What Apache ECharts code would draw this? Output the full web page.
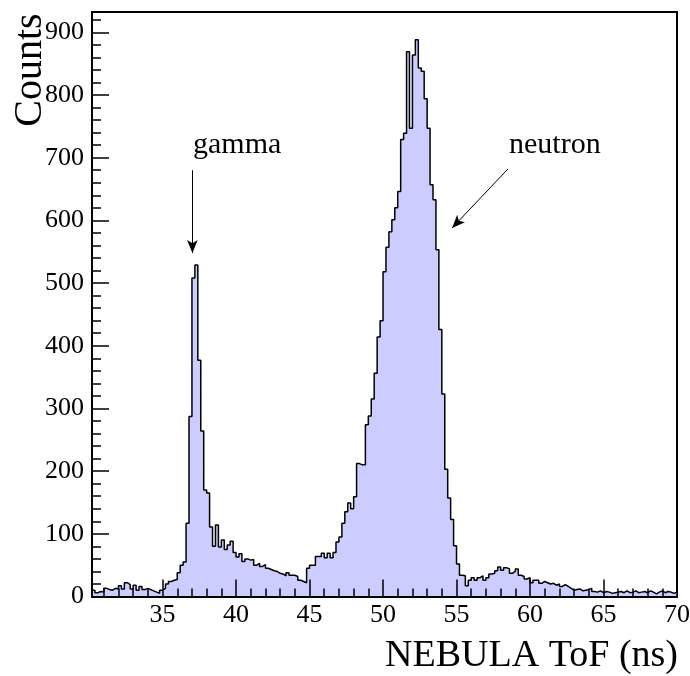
<!DOCTYPE html>
<html>
<head>
<meta charset="utf-8">
<script src="https://cdn.jsdelivr.net/npm/echarts@6/dist/echarts.min.js"></script>
<style>
html, body { margin: 0; padding: 0; background: #fff; }
#container { width: 690px; height: 676px; }
</style>
</head>
<body>
<div id="container"></div>
<script>
// histogram binning (ns)
var binStart = 30.2;
var binWidth = 0.2;
var xMin = 30.2;
var xMax = 70;
var yMax = 932.4;

// counts per 0.2 ns bin
var countsLow = [10, 6, 8, 7, 13, 11, 10, 13, 12, 17, 12, 22, 19, 12, 18, 10, 16, 11, 13, 11, 9, 7, 5, 10];          // 30.2 - 35.0
var countsGamma = [13, 20, 24, 26, 27, 38, 50, 55, 117, 287, 508, 529, 377, 264, 170, 165, 111, 80, 114, 79];       // 35.0 - 39.0
var countsValley = [90, 75, 82, 88, 70, 63, 68, 56, 60, 58, 59, 50, 53, 48, 51, 45, 43, 41, 40, 37,
                    36, 33, 38, 34, 34, 32, 26, 24, 22, 45, 50, 50, 64, 64, 69, 62, 69, 62, 70, 87];                 // 39.0 - 47.0
var countsNeutron = [95, 117, 135, 149, 140, 159, 212, 210, 210, 274, 288, 315, 356, 414, 440,
                     518, 557, 582, 601, 620, 646, 729, 739, 869, 747, 864, 888, 843, 838, 794,
                     747, 657, 633, 553, 426, 323, 203, 157, 123, 81, 52, 34, 33];                                   // 47.0 - 55.6
var countsTail = [17, 26, 30, 26, 30, 33, 26, 30, 36, 37, 41, 47, 42, 46, 44, 37, 40, 44, 34, 32,
                  28, 30, 22, 26, 26, 21, 24, 22, 20, 21, 18, 20, 16, 19, 16, 13, 10, 11, 12, 9,
                  10, 11, 13, 8, 7, 9, 6, 8, 7, 5, 6, 7, 8, 6, 9, 6, 7, 9, 6, 7,
                  8, 6, 9, 7, 4, 7, 9, 6, 8, 7, 5, 7];                                                              // 55.6 - 70.0

var xMajorTicks = [35, 40, 45, 50, 55, 60, 65, 70];
var xMinorTicks = [31, 32, 33, 34, 36, 37, 38, 39, 41, 42, 43, 44, 46, 47, 48, 49, 51, 52, 53, 54,
                   56, 57, 58, 59, 61, 62, 63, 64, 66, 67, 68, 69];
var yMajorTicks = [0, 100, 200, 300, 400, 500, 600, 700, 800, 900];
var yMinorTicks = [20, 40, 60, 80, 120, 140, 160, 180, 220, 240, 260, 280, 320, 340, 360, 380,
                   420, 440, 460, 480, 520, 540, 560, 580, 620, 640, 660, 680, 720, 740, 760, 780,
                   820, 840, 860, 880, 920];

var counts = countsLow.concat(countsGamma, countsValley, countsNeutron, countsTail);
var steps = counts.map(function (c, i) {
    return [binStart + i * binWidth, c];
});
steps.push([xMax, counts[counts.length - 1]]);

var serif = 'Liberation Serif';

var dom = document.getElementById('container');
var myChart = echarts.init(dom, null, { renderer: 'canvas' });

var option = {
    animation: false,
    backgroundColor: '#fff',
    grid: {
        left: 92, top: 12, width: 585, height: 584.5,
        outerBoundsMode: 'none',
        containLabel: false,
        show: true, borderColor: '#000', borderWidth: 2, backgroundColor: 'transparent'
    },
    xAxis: [
        {
            type: 'value', min: xMin, max: xMax, z: 10,
            axisLine: { show: true, onZero: false, lineStyle: { color: '#000', width: 2 } },
            axisTick: { show: true, inside: true, length: 17, customValues: xMajorTicks, lineStyle: { color: '#000', width: 1.5 } },
            axisLabel: { show: true, customValues: xMajorTicks, margin: 6, color: '#000', fontFamily: serif, fontSize: 26, hideOverlap: false },
            splitLine: { show: false }
        },
        {
            type: 'value', min: xMin, max: xMax, z: 10, position: 'bottom',
            axisLine: { show: false },
            axisTick: { show: true, inside: true, length: 8, customValues: xMinorTicks, lineStyle: { color: '#000', width: 1.5 } },
            axisLabel: { show: false },
            splitLine: { show: false }
        }
    ],
    yAxis: [
        {
            type: 'value', min: 0, max: yMax, z: 10,
            axisLine: { show: true, onZero: false, lineStyle: { color: '#000', width: 2 } },
            axisTick: { show: true, inside: true, length: 17, customValues: yMajorTicks, lineStyle: { color: '#000', width: 1.5 } },
            axisLabel: { show: true, customValues: yMajorTicks, margin: 8, color: '#000', fontFamily: serif, fontSize: 26 },
            splitLine: { show: false }
        },
        {
            type: 'value', min: 0, max: yMax, z: 10, position: 'left',
            axisLine: { show: false },
            axisTick: { show: true, inside: true, length: 9, customValues: yMinorTicks, lineStyle: { color: '#000', width: 1.5 } },
            axisLabel: { show: false },
            splitLine: { show: false }
        }
    ],
    series: [
        {
            name: 'NEBULA ToF',
            type: 'line',
            step: 'end',
            xAxisIndex: 0,
            yAxisIndex: 0,
            data: steps,
            symbol: 'none',
            lineStyle: { color: '#000', width: 1.5 },
            areaStyle: { color: '#ccccff', opacity: 1 },
            markLine: {
                silent: true,
                symbol: ['none', 'arrow'],
                symbolSize: [8, 13],
                label: { show: false },
                lineStyle: { color: '#000', width: 1, type: 'solid' },
                data: [
                    [{ coord: [37.03, 680] }, { coord: [37.03, 548] }],
                    [{ coord: [58.5, 682] }, { coord: [54.7, 588] }]
                ]
            }
        }
    ],
    graphic: [
        {
            type: 'text', x: 30, y: 70, rotation: Math.PI / 2,
            style: { text: 'Counts', fill: '#000', font: '40px "Liberation Serif"', textAlign: 'center', textVerticalAlign: 'middle' }
        },
        {
            type: 'text', x: 678, y: 656,
            style: { text: 'NEBULA ToF (ns)', fill: '#000', font: '38px "Liberation Serif"', textAlign: 'right', textVerticalAlign: 'middle' }
        },
        {
            type: 'text', x: 193, y: 145,
            style: { text: 'gamma', fill: '#000', font: '30px "Liberation Serif"', textAlign: 'left', textVerticalAlign: 'middle' }
        },
        {
            type: 'text', x: 509, y: 145,
            style: { text: 'neutron', fill: '#000', font: '30px "Liberation Serif"', textAlign: 'left', textVerticalAlign: 'middle' }
        }
    ]
};

if (option && typeof option === 'object') {
    myChart.setOption(option, true);
}
</script>
</body>
</html>
